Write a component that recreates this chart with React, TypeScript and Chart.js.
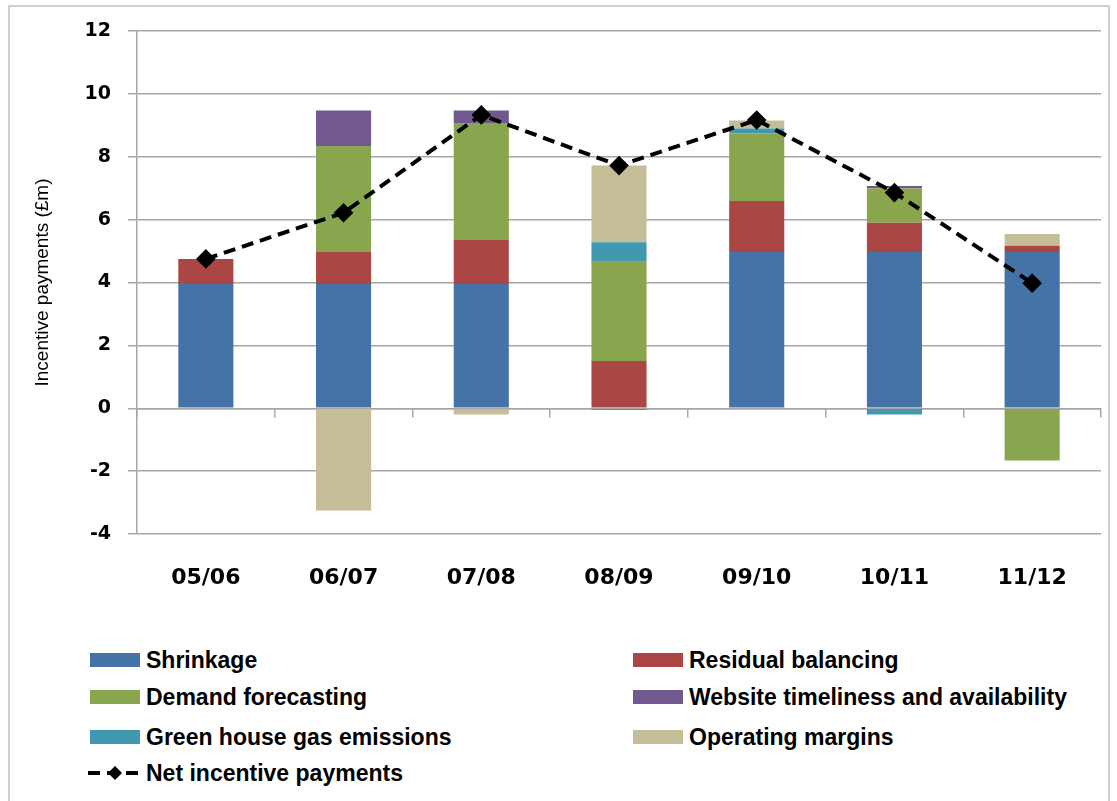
import React, { useEffect, useRef } from "react";
import { Chart, registerables } from "chart.js";

Chart.register(...registerables);

const categories = ["05/06", "06/07", "07/08", "08/09", "09/10", "10/11", "11/12"];
const shrinkage = [3.95, 3.95, 3.95, -0.05, 4.97, 4.97, 4.97];
const residualBalancing = [0.8, 1.02, 1.4, 1.5, 1.62, 0.93, 0.2];
const demandForecasting = [0, 3.37, 3.72, 3.16, 2.16, 1.1, -1.66];
const websiteTimeliness = [0, 1.13, 0.4, 0, 0, 0.07, 0];
const greenhouseGas = [0, 0, 0, 0.62, 0.15, -0.2, 0];
const operatingMargins = [0, -3.25, -0.2, 2.44, 0.25, 0, 0.37];
const netIncentive = [4.75, 6.22, 9.33, 7.72, 9.17, 6.86, 3.98];
const yTicks = [-4, -2, 0, 2, 4, 6, 8, 10, 12];

const barSeries = [
  { label: "Shrinkage", data: shrinkage, color: "#4572A7" },
  { label: "Residual balancing", data: residualBalancing, color: "#AA4643" },
  { label: "Demand forecasting", data: demandForecasting, color: "#89A54E" },
  { label: "Website timeliness and availability", data: websiteTimeliness, color: "#71588F" },
  { label: "Green house gas emissions", data: greenhouseGas, color: "#4198AF" },
  { label: "Operating margins", data: operatingMargins, color: "#C4BD97" },
];

const GRID = "#a6a6a6";

export default function App() {
  const ref = useRef<HTMLCanvasElement | null>(null);

  useEffect(() => {
    document.body.style.margin = "0";
    const canvas = ref.current;
    if (!canvas) return;
    const chart = new Chart(canvas, {
      data: {
        labels: categories,
        datasets: [
          {
            type: "line" as const,
            label: "Net incentive payments",
            data: netIncentive,
            borderColor: "#000",
            backgroundColor: "#000",
            borderWidth: 4,
            borderDash: [12, 7],
            pointStyle: "rectRot",
            pointRadius: 7,
            pointBackgroundColor: "#000",
            pointBorderColor: "#000",
            tension: 0,
            stack: "net",
            order: 0,
          } as any,
          ...barSeries.map((s) => ({
            type: "bar" as const,
            label: s.label,
            data: s.data,
            backgroundColor: s.color,
            borderWidth: 0,
            barPercentage: 0.4,
            categoryPercentage: 1.0,
            order: 1,
          })),
        ],
      },
      options: {
        animation: false,
        responsive: false,
        maintainAspectRatio: false,
        layout: { padding: { left: 0, right: 16, top: 31, bottom: 0 } },
        plugins: {
          legend: { display: false },
          tooltip: { enabled: false },
        },
        scales: {
          x: {
            stacked: true,
            offset: true,
            grid: { display: false, drawTicks: false },
            border: { display: false },
            ticks: {
              color: "#000",
              font: { family: "DejaVu Sans", weight: "bold", size: 22 },
              padding: 31,
            },
            afterFit: (scale: any) => {
              scale.height = 86;
            },
          },
          x2: {
            type: "category",
            position: { y: 0 } as any,
            offset: true,
            grid: {
              offset: true,
              drawOnChartArea: false,
              drawTicks: true,
              tickLength: 8,
              color: GRID,
              lineWidth: 1.5,
            },
            border: { display: true, color: GRID, width: 1.5 },
            ticks: { display: false },
          },
          y: {
            stacked: true,
            min: -4,
            max: 12,
            afterBuildTicks: (scale: any) => {
              scale.ticks = yTicks.map((v) => ({ value: v }));
            },
            grid: { color: GRID, lineWidth: 1.5, drawTicks: true, tickLength: 9 },
            border: { display: true, color: GRID, width: 1.5 },
            ticks: {
              color: "#000",
              font: { family: "DejaVu Sans", weight: "bold", size: 19 },
              padding: 17,
            },
            title: {
              display: true,
              text: "Incentive payments (£m)",
              color: "#000",
              font: { family: "Liberation Sans", size: 19 },
              padding: { top: 31, bottom: 0 },
            },
            afterFit: (scale: any) => {
              scale.width = 137;
            },
          },
        },
      },
    });
    return () => chart.destroy();
  }, []);

  const legendFont: React.CSSProperties = {
    position: "absolute",
    fontFamily: "'Liberation Sans', Arial, sans-serif",
    fontWeight: "bold",
    fontSize: 23,
    lineHeight: "26px",
    color: "#000",
    whiteSpace: "nowrap",
  };

  const rows = [660, 697, 737];
  const legendItems = barSeries.map((s, i) => ({
    ...s,
    col: i % 2,
    row: Math.floor(i / 2),
  }));

  return (
    <div style={{ position: "relative", width: 1117, height: 801, overflow: "hidden", background: "#fff" }}>
      <div
        style={{
          position: "absolute",
          left: 8,
          top: 5,
          width: 1102,
          height: 810,
          border: "2px solid #cfcfcf",
          boxSizing: "border-box",
        }}
      />
      <canvas ref={ref} width={1117} height={620} style={{ position: "absolute", left: 0, top: 0 }} />
      {legendItems.map((it) => {
        const cy = rows[it.row];
        const sx = it.col === 0 ? 90 : 633;
        return (
          <React.Fragment key={it.label}>
            <div
              style={{
                position: "absolute",
                left: sx,
                top: cy - 7,
                width: 50,
                height: 14,
                background: it.color,
              }}
            />
            <div style={{ ...legendFont, left: sx + 56, top: cy - 13 }}>{it.label}</div>
          </React.Fragment>
        );
      })}
      <svg
        style={{ position: "absolute", left: 86, top: 773 - 10 }}
        width={58}
        height={20}
      >
        <line x1={2} y1={10} x2={56} y2={10} stroke="#000" strokeWidth={4} strokeDasharray="12 7" />
        <polygon points="29,3 36,10 29,17 22,10" fill="#000" />
      </svg>
      <div style={{ ...legendFont, left: 146, top: 773 - 13 }}>Net incentive payments</div>
    </div>
  );
}
